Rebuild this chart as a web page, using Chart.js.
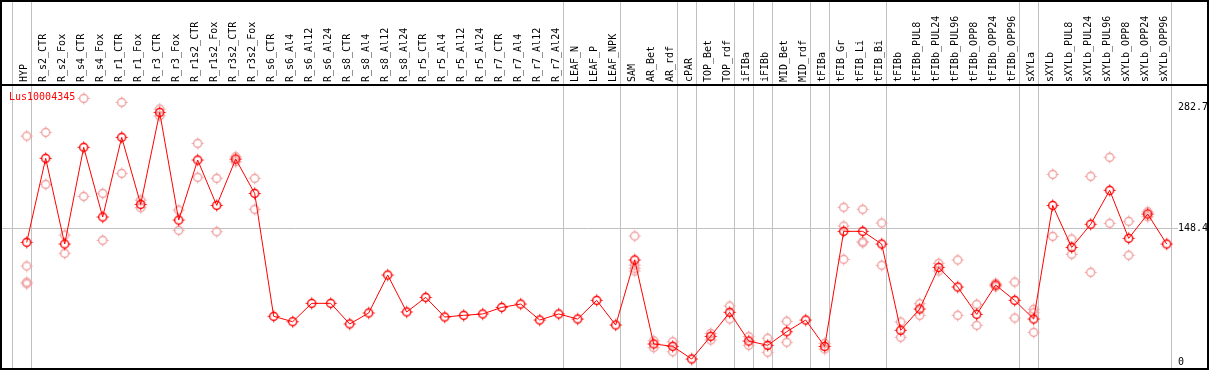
<!DOCTYPE html>
<html>
<head>
<meta charset="utf-8">
<style>
  html, body { margin: 0; padding: 0; background: #fff; }
  #c { display: block; }
</style>
<script src="https://cdn.jsdelivr.net/npm/chart.js@4/dist/chart.umd.min.js"></script>
</head>
<body>
<canvas id="c" width="1209" height="370"></canvas>
<script>
const seriesName = 'Lus10004345';

const categories = [
  'HYP','R_s2_CTR','R_s2_Fox','R_s4_CTR','R_s4_Fox','R_r1_CTR','R_r1_Fox','R_r3_CTR','R_r3_Fox',
  'R_r1s2_CTR','R_r1s2_Fox','R_r3s2_CTR','R_r3s2_Fox','R_s6_CTR','R_s6_Al4','R_s6_Al12','R_s6_Al24',
  'R_s8_CTR','R_s8_Al4','R_s8_Al12','R_s8_Al24','R_r5_CTR','R_r5_Al4','R_r5_Al12','R_r5_Al24',
  'R_r7_CTR','R_r7_Al4','R_r7_Al12','R_r7_Al24','LEAF_N','LEAF_P','LEAF_NPK','SAM','AR_Bet','AR_rdf',
  'cPAR','TOP_Bet','TOP_rdf','iFIBa','iFIBb','MID_Bet','MID_rdf','tFIBa','tFIB_Gr','tFIB_Li','tFIB_Bi',
  'tFIBb','tFIBb_PUL8','tFIBb_PUL24','tFIBb_PUL96','tFIBb_OPP8','tFIBb_OPP24','tFIBb_OPP96','sXYLa',
  'sXYLb','sXYLb_PUL8','sXYLb_PUL24','sXYLb_PUL96','sXYLb_OPP8','sXYLb_OPP24','sXYLb_OPP96'
];

const means = [
  132.8, 226, 130.9, 238.2, 160.9, 249.3, 174.9, 277, 157.5,
  224.1, 173.8, 225.2, 187.1, 50.7, 44.7, 65.1, 65.1,
  42.2, 54.4, 96.5, 55.5, 71.7, 49.9, 51.8, 53.3,
  60.6, 64.3, 46.6, 53.3, 47.7, 68.4, 41, 113.2, 20, 17.4,
  3.3, 28.5, 55.1, 23.3, 18.5, 33.6, 46.6, 17.3, 145, 145, 130.9,
  35.2, 58.8, 105, 83.2, 52.9, 85.4, 68.4, 47.7,
  173.8, 127.2, 152.8, 190.5, 137.2, 164.2, 130.9
];

const replicates = [
  [250.7, 106.5, 88.5, 86.8], [254.8, 197.1], [140.9, 120.6], [292.5, 183.8], [187.1, 135],
  [288.1, 209.3], [179.7, 171.2], [280.7, 273.2], [168.6, 146.1],
  [242.6, 204.9], [203.8, 144.6], [227.8, 222.2], [203.8, 169.4], [], [], [], [],
  [], [], [], [], [], [], [], [],
  [], [], [], [], [], [], [], [139.8, 107.6, 104, 101], [23.6, 15.9], [22.5, 11.4],
  [], [31.8, 24.4], [62.1, 47.7], [28.1, 18.5], [26.3, 10.8], [45.2, 21.9], [], [20.7, 14.4],
  [171.6, 150.9, 113.9], [169.4, 133.5, 132.4], [154.2, 107.3],
  [44.4, 27.4], [64.7, 51.8], [109.5, 101], [113.2, 51.8], [64, 40.7], [87.3, 83.5], [88.7, 48.8],
  [58.5, 54.7, 32.9],
  [208.2, 139.4], [136.5, 119.5], [206, 99.5], [227.1, 153.9], [156.1, 118.4], [166.7, 161.2], []
];

const yTicks = [0, 148.4, 282.7];
// index of the last category of each group (separator drawn after it)
const groupEnds = [-1, 0, 28, 31, 34, 35, 37, 38, 39, 41, 42, 45, 52, 53, 60];

const FONT = { family: 'DejaVu Sans Mono', size: 10 };

function makeMarker(color) {
  const c = document.createElement('canvas');
  c.width = 15; c.height = 15;
  const g = c.getContext('2d');
  g.strokeStyle = color;
  g.lineWidth = 1.4;
  g.beginPath(); g.arc(7.5, 7.5, 4, 0, Math.PI * 2); g.stroke();
  g.lineWidth = 1;
  g.beginPath();
  g.moveTo(7.5, 1.5); g.lineTo(7.5, 3.5);
  g.moveTo(7.5, 11.5); g.lineTo(7.5, 13.5);
  g.moveTo(1.5, 7.5); g.lineTo(3.5, 7.5);
  g.moveTo(11.5, 7.5); g.lineTo(13.5, 7.5);
  g.stroke();
  return c;
}

const meanData = means.map((v, i) => ({ x: i, y: v }));
const repData = [];
replicates.forEach((arr, i) => arr.forEach(v => repData.push({ x: i, y: v })));

const framePlugin = {
  id: 'frame',
  beforeDatasetsDraw(chart) {
    const { ctx, scales: { x } } = chart;
    ctx.save();
    ctx.strokeStyle = '#c0c0c0';
    ctx.lineWidth = 1;
    groupEnds.forEach(i => {
      const px = Math.round(x.getPixelForValue(i + 0.21)) + 0.5;
      ctx.beginPath(); ctx.moveTo(px, 1); ctx.lineTo(px, 369); ctx.stroke();
    });
    ctx.strokeStyle = '#000';
    ctx.lineWidth = 2;
    ctx.strokeRect(1, 1, 1207, 368);
    ctx.beginPath(); ctx.moveTo(0, 85); ctx.lineTo(1208, 85); ctx.stroke();
    ctx.restore();
  },
  afterDraw(chart) {
    const { ctx } = chart;
    ctx.save();
    ctx.fillStyle = '#ff0000';
    ctx.font = '10px "DejaVu Sans Mono"';
    ctx.textBaseline = 'middle';
    ctx.textAlign = 'left';
    ctx.fillText(seriesName, 9, 97);
    ctx.restore();
  }
};

new Chart(document.getElementById('c'), {
  type: 'line',
  data: {
    datasets: [
      {
        label: seriesName, data: meanData, borderColor: '#ff0000', borderWidth: 1,
        pointStyle: makeMarker('#ff0000'), tension: 0, order: 0
      },
      {
        label: 'replicates', data: repData, showLine: false,
        pointStyle: makeMarker('#f0a0a0'), order: 1
      }
    ]
  },
  options: {
    responsive: false,
    animation: false,
    events: [],
    layout: { autoPadding: false, padding: { left: 2, right: 0, top: 0, bottom: 1 } },
    plugins: { legend: { display: false }, tooltip: { enabled: false } },
    scales: {
      x: {
        type: 'linear', position: 'top', min: -1.3, max: 60.437, bounds: 'data',
        afterBuildTicks: s => { s.ticks = categories.map((c, i) => ({ value: i })); },
        afterFit: s => { s.height = 85; s.paddingLeft = 0; s.paddingRight = 0; s.paddingTop = 0; s.paddingBottom = 0; },
        grid: { display: false, drawTicks: false },
        border: { display: false },
        ticks: {
          autoSkip: false, minRotation: 90, maxRotation: 90, padding: 3, labelOffset: 10,
          font: FONT, color: '#000',
          callback: v => categories[v]
        }
      },
      y: {
        position: 'right', min: -7.77, max: 307.4,
        afterBuildTicks: s => { s.ticks = yTicks.map(v => ({ value: v })); },
        afterFit: s => { s.width = 34; s.paddingLeft = 0; s.paddingRight = 0; s.paddingTop = 0; s.paddingBottom = 0; },
        grid: {
          color: c => (c.tick && c.tick.value === 148.4) ? '#c0c0c0' : 'rgba(0,0,0,0)',
          tickLength: 3, drawTicks: true
        },
        border: { display: false },
        ticks: {
          padding: 0, font: FONT, color: '#000',
          callback: v => v === 0 ? '0' : v.toFixed(1)
        }
      }
    }
  },
  plugins: [framePlugin]
});
</script>
</body>
</html>
